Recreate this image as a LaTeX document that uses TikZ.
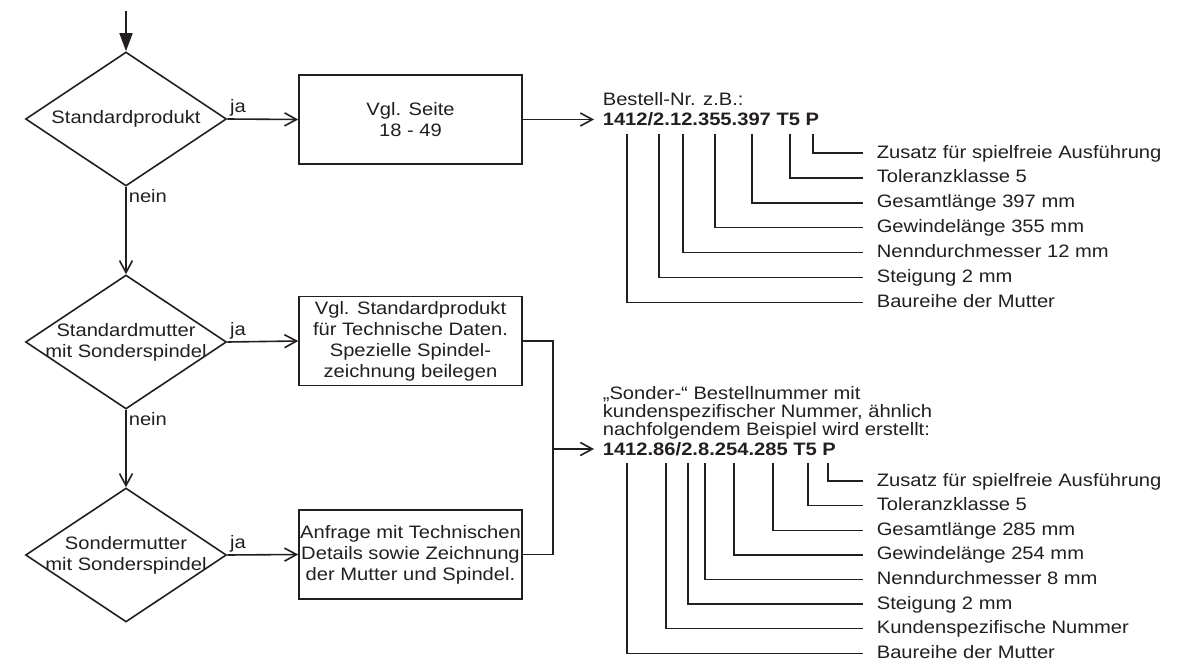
\documentclass[tikz,border=0pt]{standalone}
\usepackage{fontspec}
\setmainfont{Liberation Sans}[FakeStretch=1.12]
\usetikzlibrary{arrows.meta,shapes.geometric}
\definecolor{ink}{HTML}{231F20}

\begin{document}
\begin{tikzpicture}[x=0.5pt,y=-0.5pt,line width=.8pt,color=ink,
  font=\fontsize{9pt}{10.5pt}\selectfont,
  flow/.style={-{Straight Barb[length=6pt,width=6.5pt]}},
  entry/.style={-{Triangle[length=9pt,width=6.5pt]}},
  query/.style={diamond,draw,inner sep=0pt,minimum width=100.5pt,minimum height=67pt},
  box/.style={draw,align=center,minimum width=111.5pt,minimum height=44.5pt,inner sep=0pt},
  yes/.style={anchor=south west,inner sep=1pt},
  no/.style={anchor=north west,inner sep=1pt},
  head/.style={anchor=west,inner xsep=4pt,align=left},
  code/.style={anchor=west,inner xsep=4pt,font=\fontsize{9pt}{10.5pt}\selectfont\bfseries},
  lab/.style={anchor=west,inner xsep=6.5pt,inner ysep=0pt,text height=7pt,text depth=2pt},
  leader/.style={line width=.7pt}]
\path[use as bounding box,fill=white] (0,0) rectangle (1195,664);

% Entscheidungen links
\coordinate (start) at (126,11);
\node[query,label={center:Standardprodukt}] (std) at (126,119) {};
\node[query,label={[align=center]center:Standardmutter\\mit Sonderspindel}] (stdnut) at (126,342) {};
\node[query,label={[align=center]center:Sondermutter\\mit Sonderspindel}] (specnut) at (126,555) {};

\node[box] (page) at (410.5,119.5) {Vgl. Seite\\18 - 49};
\node[box] (techdata) at (410.5,341) {Vgl. Standardprodukt\\für Technische Daten.\\Spezielle Spindel-\\zeichnung beilegen};
\node[box] (inquiry) at (410.5,554.5) {Anfrage mit Technischen\\Details sowie Zeichnung\\der Mutter und Spindel.};

\draw[entry] (start) -- (std.north);
\draw[flow] (std.east) -- node[yes,at start] (ja1) {ja} (page.west);
\draw[flow] (std.south) -- node[no,at start] (nein1) {nein} (stdnut.north);
\draw[flow] (stdnut.east) -- node[yes,at start] (ja2) {ja} (techdata.west);
\draw[flow] (stdnut.south) -- node[no,at start] (nein2) {nein} (specnut.north);
\draw[flow] (specnut.east) -- node[yes,at start] (ja3) {ja} (inquiry.west);

% Bestellnummer Standardprodukt
\node[code] (nr) at (594,119.5) {1412/2.12.355.397 T5 P};
\node[head] (nrhead) at (594,99) {Bestell-Nr. z.B.:};
\draw[flow] (page.east) -- (nr.west);
\foreach \x/\txt [count=\i] in {813/Zusatz für spielfreie Ausführung,790/Toleranzklasse 5,
    752/Gesamtlänge 397 mm,715/Gewindelänge 355 mm,683/Nenndurchmesser 12 mm,
    659/Steigung 2 mm,627/Baureihe der Mutter}{
  \node[lab] (part\i) at (863,{153+24.9*(\i-1)}) {\txt};
  \draw[leader] (\x,0 |- nr.south) |- (part\i.west);
}

% Sonder-Bestellnummer
\coordinate (join) at (553,449);
\draw (techdata.east) -| (join) |- (inquiry.east);
\node[code] (specnr) at (594,449) {1412.86/2.8.254.285 T5 P};
\node[head] (specnrhead) at (594,413) {„Sonder-“ Bestellnummer mit\\[-1.5pt]kundenspezifischer Nummer, ähnlich\\[-1.5pt]nachfolgendem Beispiel wird erstellt:};
\draw[flow] (join) -- (specnr.west);
\foreach \x/\txt [count=\i] in {828/Zusatz für spielfreie Ausführung,808/Toleranzklasse 5,
    773/Gesamtlänge 285 mm,734/Gewindelänge 254 mm,705/Nenndurchmesser 8 mm,
    688/Steigung 2 mm,666/Kundenspezifische Nummer,627/Baureihe der Mutter}{
  \node[lab] (specpart\i) at (863,{481+24.6*(\i-1)}) {\txt};
  \draw[leader] (\x,0 |- specnr.south) |- (specpart\i.west);
}
\end{tikzpicture}
\end{document}
